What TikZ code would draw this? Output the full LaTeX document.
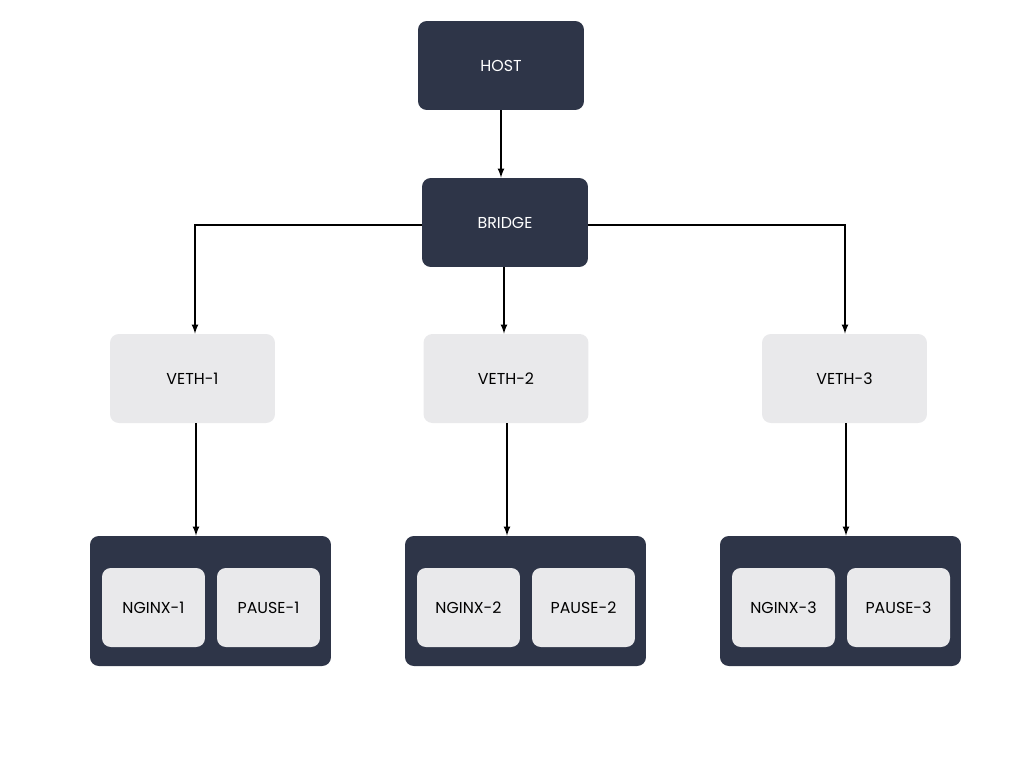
\documentclass[tikz,border=0pt]{standalone}
\usepackage{fontspec}
\setmainfont{Poppins}
\usetikzlibrary{positioning}
\definecolor{navy}{HTML}{2E3548}
\definecolor{pale}{HTML}{E9E9EB}
\tikzstyle{line} = [draw, -latex, thick]
\tikzstyle{dark} = [fill=navy, text=white, rounded corners=5pt, minimum width=3.32cm, minimum height=1.78cm, font=\fontsize{9}{10}\selectfont]
\tikzstyle{light} = [fill=pale, text=black, rounded corners=5pt, minimum width=3.3cm, minimum height=1.78cm, font=\fontsize{9}{10}\selectfont]
\tikzstyle{pod} = [fill=navy, rounded corners=5pt, minimum width=4.82cm, minimum height=2.6cm]
\tikzstyle{inner} = [fill=pale, rounded corners=5pt, minimum width=2.06cm, minimum height=1.58cm, font=\fontsize{9}{10}\selectfont]

\begin{document}
\begin{tikzpicture}[x=0.02cm, y=-0.02cm]
	
	\useasboundingbox (0,0) rectangle (1024,768);
	
	\node[dark] (host) at (501,65.5) {HOST};
	\node[dark] (bridge) at (505,222.5) {BRIDGE};
	
	\node[light] (veth1) at (192.5,378.5) {VETH-1};
	\node[light] (veth2) at (506,378.5) {VETH-2};
	\node[light] (veth3) at (844.5,378.5) {VETH-3};
	
	% pods
	\foreach \i/\x in {1/210.5, 2/525.5, 3/840.5} {
		\node[pod] (pod\i) at (\x,601) {};
		\node[inner] (nginx\i) at (\x-57,607.5) {NGINX-\i};
		\node[inner] (pause\i) at (\x+58,607.5) {PAUSE-\i};
	}
	
	\path[line] (host.south -| 501,0) -- (bridge.north -| 501,0);
	\path[line] (bridge.west |- 0,225) -| (veth1.north -| 195,0);
	\path[line] (bridge.east |- 0,225) -| (veth3.north -| 845,0);
	\path[line] (bridge.south -| 504,0) -- (veth2.north -| 504,0);
	
	\path[line] (veth1.south -| 196,0) -- (pod1.north -| 196,0);
	\path[line] (veth2.south -| 507,0) -- (pod2.north -| 507,0);
	\path[line] (veth3.south -| 846,0) -- (pod3.north -| 846,0);
	
\end{tikzpicture}
\end{document}
